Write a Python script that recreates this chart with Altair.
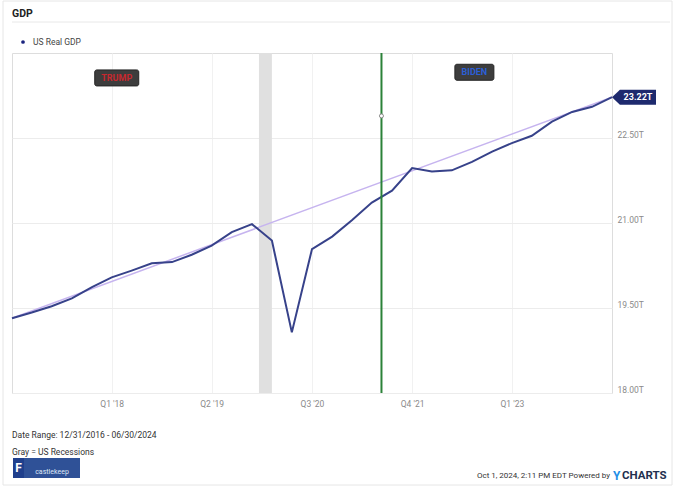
import altair as alt
import pandas as pd

# ---------------- data ----------------
quarter_end = [
    "2016-12-31", "2017-03-31", "2017-06-30", "2017-09-30", "2017-12-31",
    "2018-03-31", "2018-06-30", "2018-09-30", "2018-12-31",
    "2019-03-31", "2019-06-30", "2019-09-30", "2019-12-31",
    "2020-03-31", "2020-06-30", "2020-09-30", "2020-12-31",
    "2021-03-31", "2021-06-30", "2021-09-30", "2021-12-31",
    "2022-03-31", "2022-06-30", "2022-09-30", "2022-12-31",
    "2023-03-31", "2023-06-30", "2023-09-30", "2023-12-31",
    "2024-03-31", "2024-06-30",
]
real_gdp_trillions = [
    19.32, 19.42, 19.53, 19.67, 19.87,
    20.04, 20.16, 20.29, 20.31,
    20.44, 20.60, 20.84, 20.98,
    20.69, 19.07, 20.54, 20.76,
    21.05, 21.36, 21.57, 21.97,
    21.91, 21.93, 22.08, 22.26,
    22.41, 22.54, 22.79, 22.96,
    23.05, 23.22,
]
trend_dates = ["2016-12-31", "2024-06-30"]
trend_values = [19.32, 23.22]
recession_start = ["2020-02-01"]
recession_end = ["2020-03-31"]
marker_date = ["2021-08-13"]
marker_value = [22.89]
annotation_labels = ["TRUMP", "BIDEN"]
annotation_dates = ["2018-04-23", "2022-10-11"]
annotation_values = [23.56, 23.66]
y_domain = [18.0, 24.0]
y_ticks = [18.0, 19.5, 21.0, 22.5]
x_tick_dates = ["2018-03-31", "2019-06-30", "2020-09-30", "2021-12-31", "2023-03-31"]

FONT = "Roboto"


def dt(s):
    y, m, d = (int(p) for p in s.split("-"))
    return alt.DateTime(year=y, month=m, date=d, utc=True)


x_scale = alt.Scale(domain=[dt(quarter_end[0]), dt(quarter_end[-1])], nice=False)
y_scale = alt.Scale(domain=y_domain, nice=False, zero=False)

x_axis = alt.Axis(
    values=[dt(s) for s in x_tick_dates],
    labelExpr="'Q' + utcquarter(datum.value) + \" '\" + utcFormat(datum.value, '%y')",
    title=None, grid=True, gridColor="#f1f1f1", ticks=False, domain=False,
    labelColor="#8a8a8a", labelFontSize=8.5, labelPadding=6, labelFont=FONT,
)
y_axis = alt.Axis(
    orient="right", values=y_ticks,
    labelExpr="format(datum.value, '.2f') + 'T'",
    title=None, grid=True, gridColor="#ececec", ticks=False, domain=False,
    labelColor="#8a8a8a", labelFontSize=8.5, labelPadding=5, labelOffset=-4,
    labelFont=FONT,
)

gdp_df = pd.DataFrame({"date": quarter_end, "gdp": real_gdp_trillions})
trend_df = pd.DataFrame({"date": trend_dates, "value": trend_values})
rec_df = pd.DataFrame({"start": recession_start, "end": recession_end})
marker_df = pd.DataFrame({"date": marker_date, "value": marker_value})
ann_df = pd.DataFrame({"label": annotation_labels, "date": annotation_dates,
                       "value": annotation_values})
last_df = gdp_df.tail(1).copy()


def X(f):
    return alt.X(f, type="temporal", scale=x_scale, axis=x_axis, title=None)


def Y(f):
    return alt.Y(f, type="quantitative", scale=y_scale, axis=y_axis, title=None)


recession = alt.Chart(rec_df).mark_rect(color="#e0e0e0").encode(
    x=X("start"), x2="end:T")

trend = alt.Chart(trend_df).mark_line(color="#c6b4ef", strokeWidth=1.5).encode(
    x=X("date"), y=Y("value"))

gdp_line = alt.Chart(gdp_df).mark_line(color="#37428a", strokeWidth=2).encode(
    x=X("date"), y=Y("gdp"))

green = alt.Chart(marker_df).mark_rule(color="#2b8239", strokeWidth=2).encode(
    x=X("date"))

marker = alt.Chart(marker_df).mark_point(
    shape="circle", filled=True, fill="white", stroke="#888888",
    strokeWidth=1, size=16, opacity=1).encode(x=X("date"), y=Y("value"))

ann_colors = {"TRUMP": "#c7282e", "BIDEN": "#2b5fd6"}
ann_widths = {"TRUMP": 44, "BIDEN": 39}
ann_layers = []
for lab in annotation_labels:
    sub = ann_df[ann_df["label"] == lab]
    ann_layers.append(
        alt.Chart(sub).mark_rect(width=ann_widths[lab], height=16, cornerRadius=2,
                                 color="#3d3d3d", stroke="#252525", strokeWidth=1)
        .encode(x=X("date"), y=Y("value")))
    ann_layers.append(
        alt.Chart(sub).mark_text(font=FONT, fontSize=9, fontWeight="bold",
                                 color=ann_colors[lab])
        .encode(x=X("date"), y=Y("value"), text="label:N"))

tag_path = "M-1,0 L-0.64,-0.34 L1,-0.34 L1,0.34 L-0.64,0.34 Z"
end_tag = alt.Chart(last_df).mark_point(
    shape=tag_path, size=44 * 44, filled=True, color="#1e2a6e", opacity=1,
    strokeWidth=0, xOffset=22).encode(x=X("date"), y=Y("gdp"))
end_text = alt.Chart(last_df).transform_calculate(
    label="format(datum.gdp, '.2f') + 'T'").mark_text(
    font=FONT, fontSize=9, fontWeight="bold", color="white", dx=26).encode(
    x=X("date"), y=Y("gdp"), text="label:N")

# ---------------- decorations (page furniture) ----------------
one = pd.DataFrame({"a": [0]})


def txt(s, x, y, **kw):
    return alt.Chart(one).mark_text(font=FONT, baseline="middle", **kw).encode(
        x=alt.value(x), y=alt.value(y), text=alt.value(s))


card = alt.Chart(one).mark_rect(fillOpacity=0, stroke="#e6e6e6", strokeWidth=1).encode(
    x=alt.value(-9), x2=alt.value(660), y=alt.value(-52), y2=alt.value(432))
title_rule = alt.Chart(one).mark_rule(color="#e8e8e8", strokeWidth=1).encode(
    x=alt.value(0), x2=alt.value(658), y=alt.value(-31))
title = txt("GDP", 0, -39, align="left", fontSize=10.5, fontWeight="bold", color="#222222")
legend_dot = alt.Chart(one).mark_point(shape="circle", filled=True, color="#1a237e",
                                       size=14, opacity=1).encode(
    x=alt.value(11), y=alt.value(-11))
legend_txt = txt("US Real GDP", 21, -11, align="left", fontSize=8.5, color="#444444")
date_range = txt("Date Range: 12/31/2016 - 06/30/2024", 0, 382, align="left",
                 fontSize=8.5, color="#333333")
gray_note = txt("Gray = US Recessions", 0, 399, align="left", fontSize=8.5, color="#333333")
logo_bg = alt.Chart(one).mark_rect(color="#2f5197").encode(
    x=alt.value(1), x2=alt.value(68), y=alt.value(405), y2=alt.value(425))
logo_sq = alt.Chart(one).mark_rect(color="#1f3f8c").encode(
    x=alt.value(1), x2=alt.value(12), y=alt.value(405), y2=alt.value(425))
logo_f = txt("F", 6.5, 415, align="center", fontSize=12, fontWeight="bold", color="white")
logo_txt = txt("castlekeep", 40, 419, align="center", fontSize=7, color="#dfe6f5")
stamp = txt("Oct 1, 2024, 2:11 PM EDT Powered by", 598, 423, align="right",
            fontSize=8, color="#333333")
ych_y = txt("Y", 601, 423, align="left", fontSize=12, fontWeight="bold", color="#1e8fe6")
ych_rest = txt("CHARTS", 610, 423, align="left", fontSize=11.5, fontWeight="bold",
               color="#22304f")

chart = alt.layer(
    recession, trend, gdp_line, green, marker, *ann_layers, end_tag, end_text,
    card, title_rule, title, legend_dot, legend_txt, date_range, gray_note,
    logo_bg, logo_sq, logo_f, logo_txt, stamp, ych_y, ych_rest,
).properties(
    width=600, height=340,
    autosize=alt.AutoSizeParams(type="none"),
    padding={"left": 12, "top": 53, "right": 63, "bottom": 93},
    background="white",
).configure_view(stroke="#e3e3e3", strokeWidth=1).configure(font=FONT)

chart.save("out.html", embed_options={"renderer": "svg", "actions": False})
